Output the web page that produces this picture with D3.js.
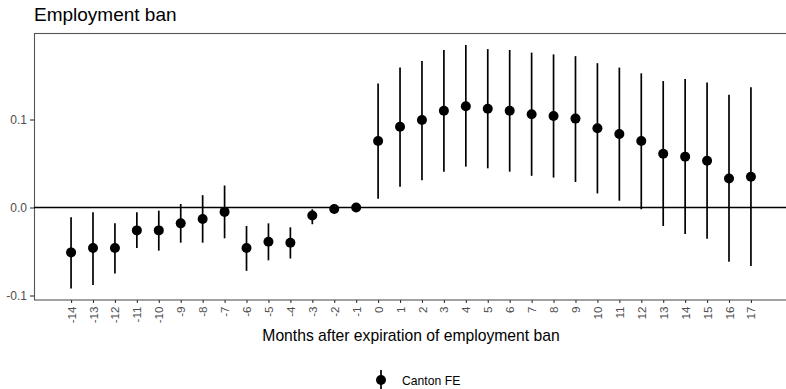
<!DOCTYPE html>
<html><head><meta charset="utf-8">
<script src="https://cdn.jsdelivr.net/npm/d3@7"></script>
<style>body{margin:0;background:#fff}svg{display:block}text{font-family:"Liberation Sans",Arial,sans-serif}</style>
</head><body><svg id="c" width="786" height="389"></svg>
<script>
const months = [-14,-13,-12,-11,-10,-9,-8,-7,-6,-5,-4,-3,-2,-1,0,1,2,3,4,5,6,7,8,9,10,11,12,13,14,15,16,17];
const estimate = [-0.051,-0.046,-0.046,-0.026,-0.026,-0.018,-0.013,-0.005,-0.046,-0.039,-0.040,-0.009,-0.0017,0.0,
  0.0756,0.0918,0.0994,0.110,0.115,0.1123,0.110,0.106,0.104,0.101,0.090,0.0835,0.0756,0.061,0.0578,0.0532,0.033,0.035];
const ciLow = [-0.092,-0.088,-0.075,-0.046,-0.049,-0.040,-0.040,-0.035,-0.072,-0.060,-0.058,-0.019,-0.0017,0.0,
  0.010,0.0237,0.031,0.0407,0.0464,0.0445,0.0407,0.036,0.034,0.029,0.016,0.0077,-0.002,-0.021,-0.030,-0.0354,-0.0616,-0.0665];
const ciHigh = [-0.011,-0.0055,-0.018,-0.0055,-0.0036,0.004,0.014,0.025,-0.021,-0.018,-0.0225,-0.002,-0.0017,0.0,
  0.141,0.159,0.1665,0.179,0.1847,0.180,0.179,0.176,0.174,0.172,0.164,0.159,0.1525,0.1437,0.146,0.142,0.128,0.1366];
const yTicks = [-0.1, 0.0, 0.1];
const yTickLabels = ["-0.1", "0.0", "0.1"];
const seriesName = "Canton FE";

const svg = d3.select("#c");
const L = 34, R = 788, T = 33.5, B = 300;
const x = d3.scaleLinear().domain([-14-1.69, 17+1.69]).range([L, R]);
const y = d3.scaleLinear().domain([0, 0.1]).range([207.5, 119.5]);

// title
svg.append("text").attr("x", 34).attr("y", 21).attr("font-size", 19).attr("fill", "#000").text("Employment ban");

// panel border
svg.append("rect").attr("x", L+0.5).attr("y", T).attr("width", R-L).attr("height", B-T)
  .attr("fill", "none").attr("stroke", "#555").attr("stroke-width", 1.1);

// zero line
svg.append("line").attr("x1", L).attr("x2", R).attr("y1", y(0)).attr("y2", y(0))
  .attr("stroke", "#000").attr("stroke-width", 1.5);

// y axis
const ya = svg.append("g").attr("transform", `translate(${L},0)`)
  .call(d3.axisLeft(y).tickValues(yTicks).tickSize(4).tickPadding(3).tickFormat((d,i) => yTickLabels[i]));
ya.select(".domain").remove();
ya.selectAll("line").attr("stroke", "#333").attr("stroke-width", 1.1);
ya.selectAll("text").attr("font-size", 12).attr("fill", "#4d4d4d").attr("font-family", "Liberation Sans, Arial, sans-serif");

// x axis
const xa = svg.append("g").attr("transform", `translate(0,${B})`)
  .call(d3.axisBottom(x).tickValues(months).tickSize(3).tickFormat(d => String(d)));
xa.select(".domain").remove();
xa.selectAll("line").attr("stroke", "#333").attr("stroke-width", 1.1);
xa.selectAll("text").attr("font-size", 11.6).attr("fill", "#4d4d4d").attr("font-family", "Liberation Sans, Arial, sans-serif")
  .attr("transform", "rotate(-90)").attr("text-anchor", "end").attr("dy", "0.35em").attr("x", -6.5).attr("y", 0);

// axis title
svg.append("text").attr("x", 411).attr("y", 340.5).attr("text-anchor", "middle").attr("font-size", 15.7)
  .attr("fill", "#000").text("Months after expiration of employment ban");

// data
const data = months.map((m,i) => ({m, e: estimate[i], lo: ciLow[i], hi: ciHigh[i]}));
const g = svg.append("g");
g.selectAll("line.ci").data(data).join("line").attr("class","ci")
  .attr("x1", d => x(d.m)).attr("x2", d => x(d.m)).attr("y1", d => y(d.lo)).attr("y2", d => y(d.hi))
  .attr("stroke", "#000").attr("stroke-width", 1.7);
g.selectAll("circle").data(data).join("circle")
  .attr("cx", d => x(d.m)).attr("cy", d => y(d.e)).attr("r", 5).attr("fill", "#000");

// legend
const lg = svg.append("g").attr("transform", "translate(381,380)");
lg.append("line").attr("x1",0).attr("x2",0).attr("y1",-10).attr("y2",10).attr("stroke","#000").attr("stroke-width",1.7);
lg.append("circle").attr("r",5).attr("fill","#000");
lg.append("text").attr("x", 21).attr("y", 4.5).attr("font-size", 12.2).attr("fill", "#000").text(seriesName);
</script></body></html>
